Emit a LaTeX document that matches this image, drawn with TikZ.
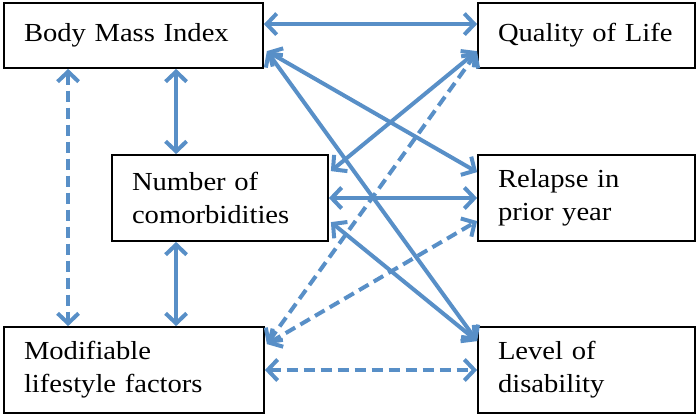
\documentclass[tikz,border=0pt]{standalone}
\usepackage{fontspec}
\setmainfont{Liberation Serif}[FakeStretch=1.1]
\usetikzlibrary{arrows.meta}
\definecolor{linkblue}{RGB}{88,143,199}
\tikzset{
  x=1pt, y=1pt,
  box/.style={draw=black, line width=1.8pt, rectangle, align=left,
    inner xsep=20pt, inner ysep=0pt, anchor=center,
    font=\fontsize{26}{33}\selectfont},
  link/.style={draw=linkblue, line width=4pt,
    {Straight Barb[length=10pt,width=21pt,line width=4pt]}-{Straight Barb[length=10pt,width=21pt,line width=4pt]}},
  dlink/.style={link, dash pattern=on 11pt off 6pt},
}
\begin{document}
\begin{tikzpicture}
\useasboundingbox (0,0) rectangle (699,-418);
\node[box, text width=219pt, minimum height=65pt] (bmi) at (133.5,-35.5) {Body Mass Index};
\node[box, text width=177pt, minimum height=65pt] (qol) at (586.5,-35.5) {Quality of Life};
\node[box, text width=176pt, minimum height=86pt] (com) at (220,-198) {Number of\\comorbidities};
\node[box, text width=177pt, minimum height=86pt] (rel) at (586.5,-198) {Relapse in\\prior year};
\node[box, text width=220pt, minimum height=86pt] (mod) at (134,-370) {Modifiable\\lifestyle factors};
\node[box, text width=177pt, minimum height=86pt] (lev) at (586.5,-370) {Level of\\disability};

% solid links
\draw[link] ([yshift=-22pt]bmi.north east) -- ([yshift=-22pt]qol.north west);
\draw[link] ([xshift=3pt,yshift=-49pt]bmi.north east) -- ([yshift=-18pt]rel.north west);
\draw[link] ([xshift=3pt,yshift=-49pt]bmi.north east) -- ([yshift=-15pt]lev.north west);
\draw[link] ([xshift=2pt,yshift=-17pt]com.north east) -- ([yshift=-49pt]qol.north west);
\draw[link] (com.east) -- (rel.west);
\draw[link] ([xshift=2pt,yshift=-68pt]com.north east) -- ([yshift=-15pt]lev.north west);
\draw[link] ([xshift=173pt]bmi.south west) -- ([xshift=65pt]com.north west);
\draw[link] ([xshift=65pt]com.south west) -- ([xshift=173pt]mod.north west);
% dashed links
\draw[dlink] ([xshift=65pt]bmi.south west) -- ([xshift=65pt]mod.north west);
\draw[dlink] ([xshift=2pt,yshift=-18pt]mod.north east) -- ([yshift=-50pt]qol.north west);
\draw[dlink] ([xshift=2pt,yshift=-18pt]mod.north east) -- ([yshift=-67pt]rel.north west);
\draw[dlink] (mod.east) -- (lev.west);
\end{tikzpicture}
\end{document}
